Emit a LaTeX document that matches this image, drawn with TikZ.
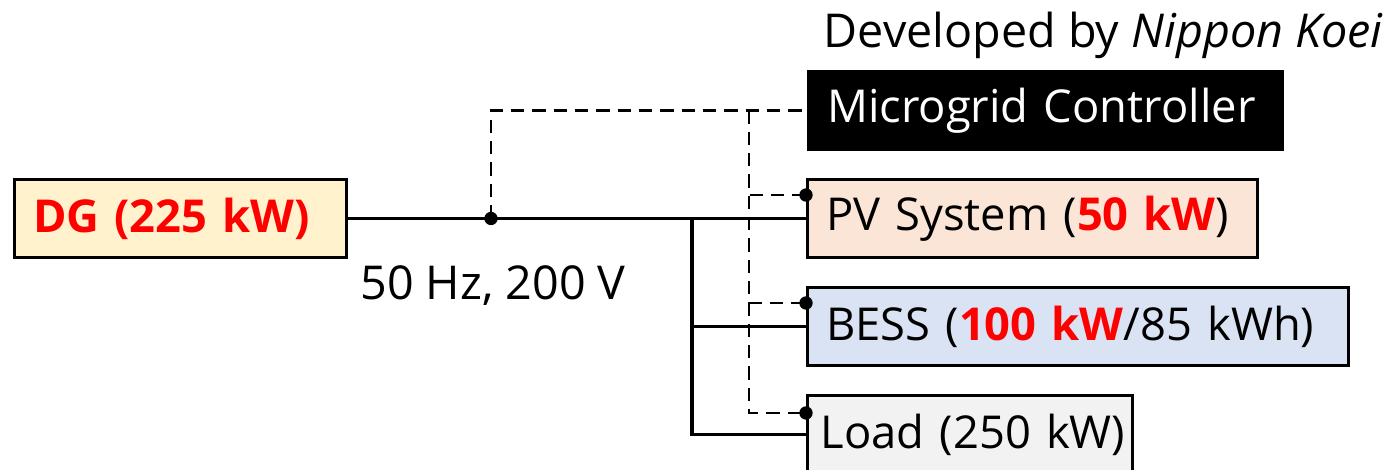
\documentclass[tikz,border=0pt]{standalone}
\usepackage{fontspec}
\setmainfont{Open Sans}
\usepackage{tikz}
\usetikzlibrary{calc}

\definecolor{dgfill}{HTML}{FFF2CC}
\definecolor{pvfill}{HTML}{FBE5D6}
\definecolor{bessfill}{HTML}{DAE3F3}
\definecolor{loadfill}{HTML}{F2F2F2}
\definecolor{hot}{HTML}{FF0000}

\begin{document}
\begin{tikzpicture}[ x=0.75pt , y=-0.75pt ,
  every node/.style={ font=\fontsize{35}{40}\selectfont } ,
  box/.style={ draw , line width=2.2pt , anchor=north west , minimum height=58.5pt , inner xsep=0pt , align=left ,
    font=\fontsize{34}{40}\selectfont , execute at begin node=\hspace*{14pt} } ,
  bus/.style={ line width=2.3pt } ,
  ctrl/.style={ line width=2pt , dash pattern=on 10pt off 6pt } ,
  hot/.style={ text=hot , font=\fontsize{34}{40}\selectfont\bfseries } ]
\useasboundingbox (0,0) rectangle (1392,469);
\node [ box , fill=dgfill , text width=249pt , hot ] (dg) at (13,178) {\mbox{DG (225 kW)}};
\node [ box , fill=black , text=white , text width=355.5pt ] (mgc) at (807,70) {\mbox{Microgrid Controller}};
\node [ box , fill=pvfill , text width=337.5pt ] (pv) at (806,178) {\mbox{PV System (\textcolor{hot}{\bfseries 50 kW})}};
\node [ box , fill=bessfill , text width=405.75pt ] (bess) at (806,286) {\mbox{BESS (\textcolor{hot}{\bfseries 100 kW}/85 kWh)}};
\node [ box , fill=loadfill , text width=243.75pt ] (load) at (806,394) {\hspace*{-4pt}\mbox{Load (250 kW)}};
\node [ anchor=base east ] (dev) at (1388,47) {Developed by \textit{Nippon Koei}};
\node (volt) at (493,286) {50 Hz, 200 V};
% bus and feeders
\coordinate (jn) at (dg.east -| 491,0);
\coordinate (sb) at (dg.east -| 692,0);
\draw [ bus ] (dg.east) -- (dg.east -| pv.west);
\draw [ bus ] (sb) |- (bess.west);
\draw [ bus ] (sb) |- (load.west);
% control links
\coordinate (cb) at (mgc.west -| 749,0);
\coordinate (pvc) at ($(pv.north west)+(0,17)$);
\coordinate (bessc) at ($(bess.north west)+(0,17)$);
\coordinate (loadc) at ($(load.north west)+(0,19)$);
\draw [ ctrl ] (jn) |- (mgc.west);
\draw [ ctrl ] (cb) |- (pvc);
\draw [ ctrl ] (cb) |- (bessc);
\draw [ ctrl ] (cb) |- (loadc);
\foreach \p in {jn,pvc,bessc,loadc}
  \fill (\p) circle (5pt);
\end{tikzpicture}
\end{document}
